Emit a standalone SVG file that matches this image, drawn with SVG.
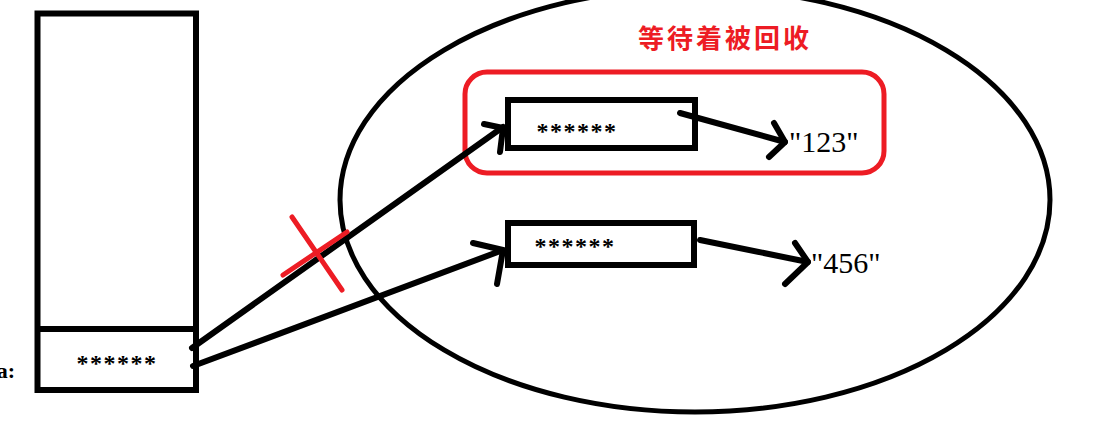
<svg xmlns="http://www.w3.org/2000/svg" width="1097" height="423" viewBox="0 0 1097 423">
<style>
.blk{fill:none;stroke:#000;stroke-width:6;stroke-linecap:round;stroke-linejoin:round}
.box{fill:#fff;stroke:#000;stroke-width:6}
.red{fill:none;stroke:#ed1c24;stroke-width:5;stroke-linecap:round}
.stars{font-family:"Liberation Serif",serif;font-weight:bold;font-size:24px;letter-spacing:1.5px;fill:#000}
.val{font-family:"Liberation Serif",serif;font-size:30px;fill:#000}
</style>
<rect width="1097" height="423" fill="#fff"/>
<g id="heap">
<ellipse cx="695" cy="200" rx="355" ry="212" fill="none" stroke="#000" stroke-width="5"/>
</g>
<g id="title">
<text x="638" y="48" font-family="'Noto Sans CJK SC',sans-serif" font-weight="bold" font-size="26" letter-spacing="3" fill="#ed1c24">等待着被回收</text>
</g>
<g id="garbage-frame">
<rect x="465" y="72" width="419" height="101" rx="22" fill="none" stroke="#ed1c24" stroke-width="5"/>
</g>
<g id="stack">
<rect class="box" x="37.5" y="13.5" width="158.5" height="376.5"/>
<line x1="37.5" y1="329" x2="196" y2="329" stroke="#000" stroke-width="6"/>
<text class="stars" x="117" y="371" text-anchor="middle">******</text>
<text x="15" y="378" font-family="'Liberation Serif',serif" font-weight="bold" font-size="22" text-anchor="end">a:</text>
</g>
<g id="obj1">
<rect class="box" x="508" y="100" width="187" height="48"/>
<text class="stars" x="577" y="139" text-anchor="middle">******</text>
</g>
<g id="obj2">
<rect class="box" x="508" y="223" width="186" height="42"/>
<text class="stars" x="575" y="254" text-anchor="middle">******</text>
</g>
<g id="str123"><text class="val" x="789" y="152">"123"</text></g>
<g id="str456"><text class="val" x="811" y="273">"456"</text></g>
<g id="connectors">
<polyline class="blk" points="192,348 503,127"/>
<polyline class="blk" points="484,124 503,128 500,152"/>
<polyline class="blk" points="193,366 503,250"/>
<polyline class="blk" points="473,243 503,250 497,284"/>
<polyline class="blk" points="680,113 785,142"/>
<polyline class="blk" points="774,123 785,142 769,157"/>
<polyline class="blk" points="700,240 808,262"/>
<polyline class="blk" points="795,243 808,262 785,284"/>
</g>
<g id="cut">
<line class="red" x1="292" y1="217" x2="342" y2="290"/>
<line class="red" x1="283" y1="275" x2="347" y2="232"/>
</g>
</svg>
